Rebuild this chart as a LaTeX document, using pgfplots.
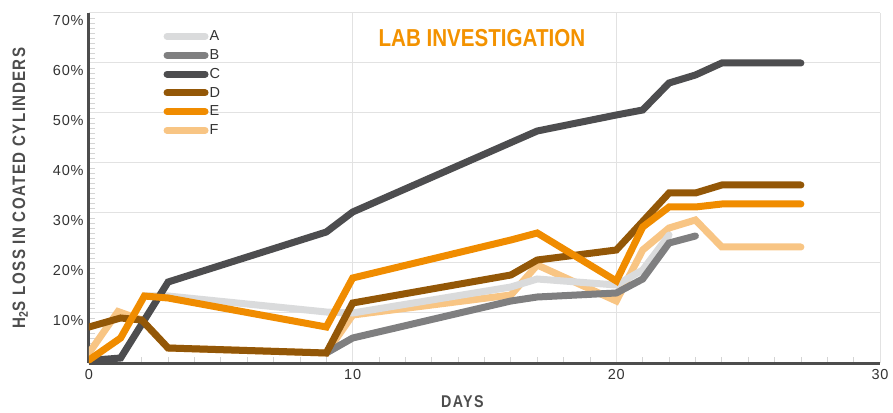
\documentclass[border=0pt]{standalone}
\usepackage{fontspec}
\setmainfont{Liberation Sans}
\newfontfamily\condfont[FakeStretch=0.84]{Liberation Sans}
\newfontfamily\tickfont[LetterSpace=5]{Liberation Sans}
\usepackage{pgfplots}
\pgfplotsset{compat=1.18}
\definecolor{axisc}{HTML}{4D4D4D}
\definecolor{gridc}{HTML}{E2E2E2}
\definecolor{minorc}{HTML}{D4D4D4}
\definecolor{labc}{HTML}{333333}
\definecolor{titlec}{HTML}{F39200}
\definecolor{cA}{HTML}{DADBDC}
\definecolor{cB}{HTML}{7F7F80}
\definecolor{cC}{HTML}{4D4D4F}
\definecolor{cD}{HTML}{935707}
\definecolor{cE}{HTML}{F08C00}
\definecolor{cF}{HTML}{F8C584}
\pgfplotsset{ser/.style={line width=7pt, line cap=round, line join=miter, mark=none}}

\begin{document}
\begin{tikzpicture}
\useasboundingbox (-89pt,-49pt) rectangle (804pt,363pt);
\begin{axis}[
  at={(0pt,0pt)}, anchor=south west,
  scale only axis, width=791pt, height=350pt,
  xmin=0, xmax=30, ymin=0, ymax=70,
  axis lines*=left,
  axis line style={color=axisc, line width=3pt},
  xtick={0,10,20,30}, ytick={0,10,...,70},
  yticklabels={,10\%,20\%,30\%,40\%,50\%,60\%,70\%},
  minor x tick num=9, minor y tick num=9,
  tick align=inside,
  major tick length=0pt, minor tick length=6pt,
  minor tick style={color=minorc, line width=0.8pt},
  grid=major, grid style={color=gridc, line width=1pt},
  /pgf/number format/assume math mode=true,
  tick label style={font=\tickfont\fontsize{14.5}{16}\selectfont, text=labc},
  yticklabel style={yshift=-8pt, xshift=-2pt},
  xticklabel style={yshift=-3pt},
  xlabel={DAYS},
  ylabel={H\textsubscript{2}S LOSS IN COATED CYLINDERS},
  xlabel style={at={(axis description cs:0.472,0)}, anchor=center, yshift=-39pt,
    font=\condfont\bfseries\addfontfeature{LetterSpace=8}\fontsize{17}{18}\selectfont, text=axisc},
  ylabel style={at={(axis description cs:-0.087,0.5)}, anchor=center,
    font=\condfont\bfseries\addfontfeature{LetterSpace=8}\fontsize{18}{20}\selectfont, text=axisc},
  legend cell align=left,
  legend style={draw=none, fill=none, inner sep=0pt, row sep=5.3pt,
    at={(axis description cs:0.094,0.953)}, anchor=north west,
    font=\tickfont\fontsize{14.5}{15}\selectfont, text=labc,
    nodes={inner sep=1pt}},
  legend image code/.code={\draw[#1] (0pt,0pt) -- (38pt,0pt);},
]
\addlegendimage{ser, cA}\addlegendentry{A}
\addlegendimage{ser, cB}\addlegendentry{B}
\addlegendimage{ser, cC}\addlegendentry{C}
\addlegendimage{ser, cD}\addlegendentry{D}
\addlegendimage{ser, cE}\addlegendentry{E}
\addlegendimage{ser, cF}\addlegendentry{F}

% F
\addplot[ser, cF, forget plot] coordinates {
  (0,2) (1.1,10.3) (2,8.6) (3,3) (9,2) (10,9.6) (16,13.6) (17,19.6)
  (20,12.4) (21,22.6) (22,27) (23,28.6) (24,23.2) (27,23.2)};
% A
\addplot[ser, cA, forget plot] coordinates {
  (2.1,13.4) (3,13.4) (9,10.2) (10,10.0) (16,15.2) (17,16.8) (20,15.6)
  (21,18.6) (22,25.6)};
% B
\addplot[ser, cB, forget plot] coordinates {
  (9,2) (10,5) (16,12.4) (17,13.2) (20,14) (21,16.8) (22,24) (23,25.4)};
% C
\addplot[ser, cC, forget plot] coordinates {
  (0,0.5) (1.2,1) (3,16.2) (9,26.2) (10,30.2) (17,46.4) (20,49.6)
  (21,50.6) (22,56) (23,57.6) (24,60) (27,60)};
% D
\addplot[ser, cD, forget plot] coordinates {
  (0,7.2) (1.2,9) (2,8.6) (3,3) (9,2) (10,12) (16,17.6) (17,20.6)
  (20,22.6) (22,34) (23,34) (24,35.6) (27,35.6)};
% E
\addplot[ser, cE, forget plot] coordinates {
  (0,0.6) (1.2,5) (2.1,13.4) (3,13) (9,7.2) (10,17) (16,24.6) (17,26)
  (20,16.4) (21,27.2) (22,31.2) (23,31.2) (24,31.8) (27,31.8)};

\node[font=\condfont\bfseries\fontsize{24.5}{26}\selectfont, text=titlec]
  at (axis cs:14.9,65) {LAB INVESTIGATION};
\end{axis}
\end{tikzpicture}
\end{document}
